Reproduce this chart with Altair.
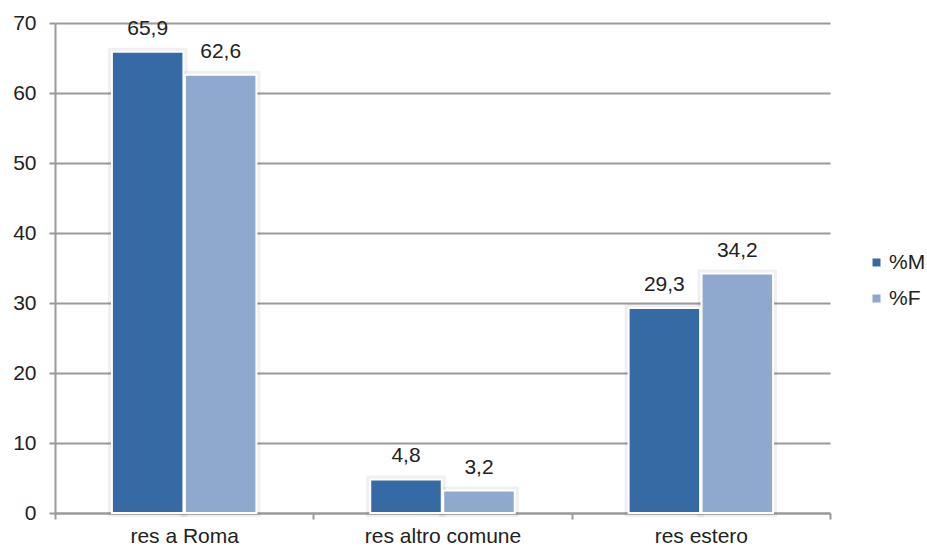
import altair as alt
import pandas as pd

# Residence share by sex (percent)
categories = ["res a Roma", "res altro comune", "res estero"]
series = ["%M", "%F"]
pct_m = [65.9, 4.8, 29.3]
pct_f = [62.6, 3.2, 34.2]
colors = ["#366AA5", "#8FA8CE"]

rows = []
for cat, m, f in zip(categories, pct_m, pct_f):
    rows.append({"categoria": cat, "sesso": "%M", "valore": m})
    rows.append({"categoria": cat, "sesso": "%F", "valore": f})
df = pd.DataFrame(rows)

FONT = "Liberation Sans"
GRID = "#9a9a9a"
TXT = "#222222"
FS = 21

x = alt.X(
    "categoria:N",
    sort=categories,
    title=None,
    scale=alt.Scale(paddingInner=0, paddingOuter=0),
    axis=alt.Axis(
        labelAngle=0,
        tickBand="extent",
        labelFontSize=FS,
        labelFont=FONT,
        labelColor=TXT,
        labelPadding=6,
        domainColor=GRID,
        domainWidth=2,
        tickColor=GRID,
        tickWidth=2,
        tickSize=6,
        grid=False,
    ),
)
x_off = alt.XOffset(
    "sesso:N",
    sort=series,
    scale=alt.Scale(paddingInner=0.02, paddingOuter=0.78),
)
y = alt.Y(
    "valore:Q",
    title=None,
    scale=alt.Scale(domain=[0, 70], nice=False),
    axis=alt.Axis(
        values=[0, 10, 20, 30, 40, 50, 60, 70],
        labelFontSize=FS,
        labelFont=FONT,
        labelColor=TXT,
        labelPadding=13,
        domainColor=GRID,
        domainWidth=2,
        tickColor=GRID,
        tickWidth=2,
        tickSize=6,
        gridColor=GRID,
        gridWidth=2,
    ),
)

base = alt.Chart(df).encode(x=x, xOffset=x_off, y=y)

# soft drop shadow behind each bar
shadow = base.mark_bar(
    fillOpacity=0, stroke="#000000", strokeOpacity=0.06, strokeWidth=8
)

bars = base.mark_bar(stroke="white", strokeWidth=2).encode(
    color=alt.Color(
        "sesso:N",
        sort=series,
        scale=alt.Scale(domain=series, range=colors),
        legend=alt.Legend(
            title=None,
            orient="none",
            legendX=811,
            legendY=229,
            symbolType="square",
            symbolSize=64,
            symbolStrokeWidth=0,
            labelFontSize=FS,
            labelFont=FONT,
            labelColor=TXT,
            rowPadding=14,
            labelOffset=2,
        ),
    )
)

labels = base.transform_calculate(
    etichetta="replace(format(datum.valore, '.1f'), '.', ',')"
).mark_text(
    baseline="alphabetic", dy=-17, fontSize=FS, font=FONT, color=TXT
).encode(text="etichetta:N")

chart = (
    alt.layer(shadow, bars, labels)
    .properties(
        width=775,
        height=490,
        autosize=alt.AutoSizeParams(type="none"),
        padding={"left": 55, "top": 23, "right": 97, "bottom": 35},
    )
    .configure_view(stroke=None)
)

chart.save("out.html", embed_options={"renderer": "svg", "actions": False})
